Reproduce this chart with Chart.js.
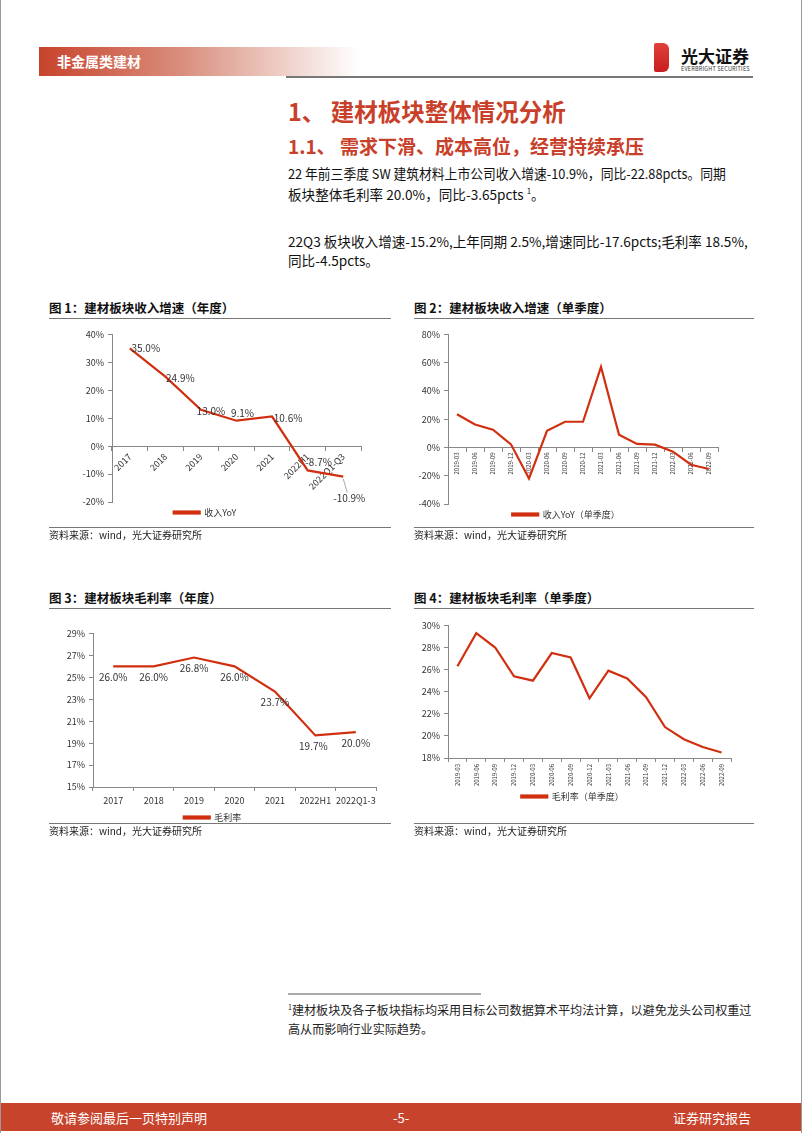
<!DOCTYPE html>
<html>
<head>
<meta charset="utf-8">
<script src="https://cdn.jsdelivr.net/npm/chart.js@4"></script>
<style>
  body { margin: 0; background: #fff; font-family: "Noto Sans CJK SC", sans-serif; color: #222; }
  .page { position: relative; width: 802px; height: 1133px; overflow: hidden; border-left: 1px solid #999; border-right: 1px solid #999; box-sizing: border-box; }
  .abs { position: absolute; white-space: nowrap; }
  .hdr { left: 38px; top: 47px; width: 320px; height: 29px; background: linear-gradient(to right, #c8432b 0%, #d98f7e 45%, #fff 100%); }
  .hdr span { position: absolute; left: 18px; top: 4px; color: #fff; font-size: 14px; font-weight: 700; }
  .hline { left: 285px; top: 76px; width: 467px; height: 2px; background: #777; }
  .h1 { left: 287px; top: 94px; font-size: 23.5px; font-weight: 700; color: #c8402a; }
  .h2 { left: 287px; top: 132px; font-size: 19px; font-weight: 700; color: #c8402a; }
  .body { left: 287px; font-size: 13.6px; color: #111; transform-origin: left top; }
  .ctitle { font-size: 12.5px; font-weight: 700; color: #111; }
  .rule { height: 1px; background: #777; }
  .src { font-size: 10px; color: #222; }
  .chart { position: absolute; }
  .foot { left: 0; top: 1103px; width: 802px; height: 28px; background: #c8432b; color: #fff; font-size: 13px; }
</style>
</head>
<body>
<div class="page">
  <div class="abs hdr"><span>非金属类建材</span></div>
  <div class="abs hline"></div>
  <div class="abs" style="left:653px;top:43px;width:15px;height:29px;background:linear-gradient(to bottom,#e0403a,#c81e1e);border-radius:2px 6px 6px 2px;"></div>
  <div class="abs" style="left:680px;top:43px;font-size:17px;font-weight:700;color:#111;">光大证券</div>
  <div class="abs" style="left:680px;top:65px;font-size:5.5px;color:#333;letter-spacing:0.2px;">EVERBRIGHT SECURITIES</div>

  <div class="abs h1">1、 建材板块整体情况分析</div>
  <div class="abs h2">1.1、 需求下滑、成本高位，经营持续承压</div>
  <div class="abs body" style="top:163px;transform:scaleX(0.94);">22 年前三季度 SW 建筑材料上市公司收入增速-10.9%，同比-22.88pcts。同期</div>
  <div class="abs body" style="top:184px;">板块整体毛利率 20.0%，同比-3.65pcts <sup style="font-size:8px;">1</sup>。</div>
  <div class="abs body" style="top:231px;">22Q3 板块收入增速-15.2%,上年同期 2.5%,增速同比-17.6pcts;毛利率 18.5%,</div>
  <div class="abs body" style="top:250px;">同比-4.5pcts。</div>

  <div class="abs ctitle" style="left:48px;top:298px;">图 1：建材板块收入增速（年度）</div>
  <div class="abs rule" style="left:48px;top:318px;width:342px;"></div>
  <div class="abs ctitle" style="left:413px;top:298px;">图 2：建材板块收入增速（单季度）</div>
  <div class="abs rule" style="left:413px;top:318px;width:340px;"></div>
  <div class="chart" style="left:48px;top:325px;width:345px;height:202px;"><canvas id="c1"></canvas></div>
  <div class="chart" style="left:413px;top:325px;width:340px;height:204px;"><canvas id="c2"></canvas></div>
  <div class="abs rule" style="left:48px;top:527px;width:342px;"></div>
  <div class="abs src" style="left:48px;top:527px;">资料来源：wind，光大证券研究所</div>
  <div class="abs rule" style="left:413px;top:527px;width:340px;"></div>
  <div class="abs src" style="left:413px;top:527px;">资料来源：wind，光大证券研究所</div>

  <div class="abs ctitle" style="left:48px;top:588px;">图 3：建材板块毛利率（年度）</div>
  <div class="abs rule" style="left:48px;top:608px;width:342px;"></div>
  <div class="abs ctitle" style="left:413px;top:588px;">图 4：建材板块毛利率（单季度）</div>
  <div class="abs rule" style="left:413px;top:608px;width:340px;"></div>
  <div class="chart" style="left:48px;top:624px;width:345px;height:208px;"><canvas id="c3"></canvas></div>
  <div class="chart" style="left:413px;top:616px;width:340px;height:195px;"><canvas id="c4"></canvas></div>
  <div class="abs rule" style="left:48px;top:823px;width:342px;"></div>
  <div class="abs src" style="left:48px;top:823px;">资料来源：wind，光大证券研究所</div>
  <div class="abs rule" style="left:413px;top:823px;width:340px;"></div>
  <div class="abs src" style="left:413px;top:823px;">资料来源：wind，光大证券研究所</div>

  <div class="abs" style="left:287px;top:993px;width:193px;height:2px;background:#aaa;"></div>
  <div class="abs" style="left:287px;top:1001px;font-size:12.1px;"><sup style="font-size:7px;">1</sup>建材板块及各子板块指标均采用目标公司数据算术平均法计算，以避免龙头公司权重过</div>
  <div class="abs" style="left:287px;top:1020px;font-size:12.1px;">高从而影响行业实际趋势。</div>

  <div class="abs foot">
    <span style="position:absolute;left:50px;top:5px;">敬请参阅最后一页特别声明</span>
    <span style="position:absolute;left:392px;top:5px;">-5-</span>
    <span style="position:absolute;left:672px;top:5px;">证券研究报告</span>
  </div>
</div>
<script>
// 年度数据
const annualLabels = ['2017', '2018', '2019', '2020', '2021', '2022H1', '2022Q1-Q3'];
const annualMarginLabels = ['2017', '2018', '2019', '2020', '2021', '2022H1', '2022Q1-3'];
const annualRevenueYoY = [35.0, 24.9, 13.0, 9.1, 10.6, -8.7, -10.9];
const annualMargin = [26.0, 26.0, 26.8, 26.0, 23.7, 19.7, 20.0];

// 单季度数据
const quarterLabels = ['2019-03', '2019-06', '2019-09', '2019-12', '2020-03', '2020-06', '2020-09', '2020-12',
    '2021-03', '2021-06', '2021-09', '2021-12', '2022-03', '2022-06', '2022-09'];
const quarterRevenueYoY = [23.5, 16.2, 12.6, 2.2, -22.0, 11.8, 18.2, 18.2, 57.0, 9.0, 2.5, 2.0, -3.0, -12.2, -15.2];
const quarterMargin = [26.3, 29.3, 28.0, 25.4, 25.0, 27.5, 27.1, 23.4, 25.9, 25.2, 23.5, 20.8, 19.7, 19.0, 18.5];

// 坐标刻度
const revenueTicks = [-20, -10, 0, 10, 20, 30, 40];
const quarterRevenueTicks = [-40, -20, 0, 20, 40, 60, 80];
const marginTicks = [15, 17, 19, 21, 23, 25, 27, 29];
const quarterMarginTicks = [18, 20, 22, 24, 26, 28, 30];

const RED = '#d0300f';
const FONT = '"Noto Sans CJK SC", sans-serif';
Chart.defaults.font.family = FONT;
Chart.defaults.color = '#333';

// 数据标签
const pointLabels = {
    id: 'pointLabels',
    afterDatasetsDraw(chart, args, opts) {
        if (!opts.offsets) return;
        const ctx = chart.ctx;
        const meta = chart.getDatasetMeta(0);
        const values = chart.data.datasets[0].data;
        ctx.save();
        ctx.font = '10px ' + FONT;
        ctx.fillStyle = '#333';
        ctx.textAlign = 'center';
        ctx.textBaseline = 'middle';
        meta.data.forEach((pt, i) => {
            const [dx, dy] = opts.offsets[i];
            if (opts.leader === i) {
                ctx.strokeStyle = '#aaa';
                ctx.lineWidth = 1;
                ctx.beginPath();
                ctx.moveTo(pt.x, pt.y + 2);
                ctx.lineTo(pt.x + dx - 2, pt.y + dy - 6);
                ctx.stroke();
            }
            ctx.fillText(values[i].toFixed(1) + '%', pt.x + dx, pt.y + dy);
        });
        ctx.restore();
    }
};

function lineDataset(label, data) {
    return {
        label: label,
        data: data,
        borderColor: RED,
        backgroundColor: RED,
        borderWidth: 2.2,
        pointRadius: 0,
        tension: 0
    };
}

function legendOpts() {
    return {
        position: 'bottom',
        labels: { boxWidth: 26, boxHeight: 2, font: { size: 9 }, color: '#333', padding: 6 }
    };
}

function yScale(ticks, width) {
    return {
        min: ticks[0],
        max: ticks[ticks.length - 1],
        afterBuildTicks: s => { s.ticks = ticks.map(v => ({ value: v })); },
        afterFit: s => { s.width = width; },
        ticks: { font: { size: 9 }, color: '#333', padding: 4, callback: v => v + '%' },
        grid: { drawOnChartArea: false, tickLength: 4, color: '#888' },
        border: { color: '#888' }
    };
}

// 图1
new Chart(document.getElementById('c1'), {
    type: 'line',
    data: { labels: annualLabels, datasets: [lineDataset('收入YoY', annualRevenueYoY)] },
    plugins: [pointLabels],
    options: {
        animation: false,
        responsive: true,
        maintainAspectRatio: false,
        layout: { padding: { top: 6, right: 33 } },
        plugins: {
            legend: legendOpts(),
            tooltip: { enabled: false },
            pointLabels: { offsets: [[16, 0], [15, 2], [10, 1], [6, -8], [16, 2], [11, -8], [6, 22]], leader: 6 }
        },
        scales: {
            x: {
                position: { y: 0 },
                offset: true,
                ticks: { minRotation: 45, maxRotation: 45, autoSkip: false, font: { size: 9 }, color: '#333', padding: 1 },
                grid: { drawOnChartArea: false, tickLength: 4, color: '#888', offset: true },
                border: { color: '#888' }
            },
            y: yScale(revenueTicks, 63)
        }
    }
});

// 图2
new Chart(document.getElementById('c2'), {
    type: 'line',
    data: { labels: quarterLabels, datasets: [lineDataset('收入YoY（单季度）', quarterRevenueYoY)] },
    options: {
        animation: false,
        responsive: true,
        maintainAspectRatio: false,
        layout: { padding: { top: 6, right: 36 } },
        plugins: { legend: legendOpts(), tooltip: { enabled: false } },
        scales: {
            x: {
                position: { y: 0 },
                offset: true,
                ticks: { minRotation: 90, maxRotation: 90, autoSkip: false, font: { size: 6 }, color: '#333', padding: 1 },
                grid: { drawOnChartArea: false, tickLength: 4, color: '#888', offset: true },
                border: { color: '#888' }
            },
            y: yScale(quarterRevenueTicks, 34)
        }
    }
});

// 图3
new Chart(document.getElementById('c3'), {
    type: 'line',
    data: { labels: annualMarginLabels, datasets: [lineDataset('毛利率', annualMargin)] },
    plugins: [pointLabels],
    options: {
        animation: false,
        responsive: true,
        maintainAspectRatio: false,
        layout: { padding: { top: 8, right: 18 } },
        plugins: {
            legend: legendOpts(),
            tooltip: { enabled: false },
            pointLabels: { offsets: [[0, 11], [0, 11], [0, 11], [0, 11], [0, 11], [-2, 11], [0, 11]] }
        },
        scales: {
            x: {
                offset: true,
                afterFit: s => { s.height = 20; },
                ticks: { maxRotation: 0, autoSkip: false, font: { size: 9 }, color: '#333', padding: 4 },
                grid: { drawOnChartArea: false, tickLength: 4, color: '#888', offset: true },
                border: { color: '#888' }
            },
            y: yScale(marginTicks, 44)
        }
    }
});

// 图4
new Chart(document.getElementById('c4'), {
    type: 'line',
    data: { labels: quarterLabels, datasets: [lineDataset('毛利率（单季度）', quarterMargin)] },
    options: {
        animation: false,
        responsive: true,
        maintainAspectRatio: false,
        layout: { padding: { top: 8, right: 23 } },
        plugins: { legend: legendOpts(), tooltip: { enabled: false } },
        scales: {
            x: {
                offset: true,
                afterFit: s => { s.height = 28; },
                ticks: { minRotation: 90, maxRotation: 90, autoSkip: false, font: { size: 6 }, color: '#333', padding: 2 },
                grid: { drawOnChartArea: false, tickLength: 4, color: '#888', offset: true },
                border: { color: '#888' }
            },
            y: yScale(quarterMarginTicks, 34)
        }
    }
});
</script>
</body>
</html>
